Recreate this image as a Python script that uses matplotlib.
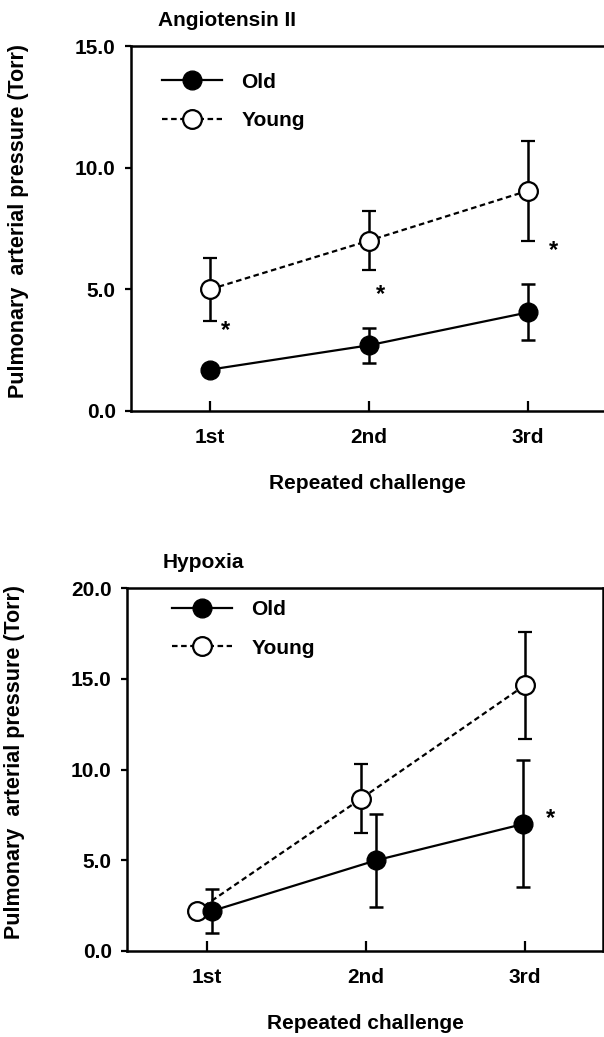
import matplotlib
matplotlib.use("Agg")
import matplotlib.pyplot as plt
from matplotlib.lines import Line2D
import numpy as np

plt.rcParams["font.family"] = ["Liberation Sans", "DejaVu Sans"]
plt.rcParams["font.weight"] = "bold"
plt.rcParams["axes.labelweight"] = "bold"

challenges = ["1st", "2nd", "3rd"]

# Angiotensin II
ang_old = [1.7, 2.7, 4.05]
ang_old_err = [0.15, 0.72, 1.15]
ang_young = [5.0, 7.0, 9.05]
ang_young_err = [1.3, 1.2, 2.05]
ang_stars_x = [1.10, 2.075, 3.16]
ang_stars_y = [3.3, 4.8, 6.6]

# Hypoxia
hyp_old = [2.2, 5.0, 7.0]
hyp_old_err = [1.2, 2.55, 3.5]
hyp_young = [2.2, 8.4, 14.65]
hyp_young_err = [0.35, 1.9, 2.95]
hyp_stars_x = [3.16]
hyp_stars_y = [7.3]

FS = 15
YOUNG_LS = (0, (2.5, 1.6))


def draw_panel(ax, title, old, old_err, young, young_err, stars_x, stars_y,
               ymax, yticks, old_dx, young_dx, xlim, title_x, legend_xy):
    x = np.arange(1, len(challenges) + 1)
    ax.errorbar(x + young_dx, young, yerr=young_err, color="black",
                linestyle=YOUNG_LS, linewidth=1.6, marker="o",
                markersize=13.5, markerfacecolor="white", markeredgecolor="black",
                markeredgewidth=1.6, elinewidth=1.8, capsize=5, capthick=1.8,
                zorder=3)
    ax.errorbar(x + old_dx, old, yerr=old_err, color="black", linestyle="-",
                linewidth=1.6, marker="o", markersize=13.5,
                markerfacecolor="black", markeredgecolor="black",
                elinewidth=1.8, capsize=5, capthick=1.8, zorder=4)
    for sx, sy in zip(stars_x, stars_y):
        ax.text(sx, sy, "*", fontsize=17, ha="center", va="center")

    ax.set_xlim(*xlim)
    ax.set_ylim(0, ymax)
    ax.set_xticks(x)
    ax.set_xticklabels(challenges, fontsize=FS)
    ax.set_yticks(yticks)
    ax.set_yticklabels([f"{v:.1f}" for v in yticks], fontsize=FS)
    ax.tick_params(axis="x", direction="in", length=7, width=1.6, pad=12)
    ax.tick_params(axis="y", direction="out", length=4, width=1.6, pad=7)
    for s in ax.spines.values():
        s.set_linewidth(1.8)

    ax.set_xlabel("Repeated challenge", fontsize=FS, labelpad=20)
    ax.set_ylabel("Pulmonary  arterial pressure (Torr)", fontsize=15.5)
    ax.yaxis.set_label_coords(-0.215, 0.52)

    handles = [
        Line2D([], [], color="black", linestyle="-", linewidth=1.6, marker="o",
               markersize=13.5, markerfacecolor="black"),
        Line2D([], [], color="black", linestyle=YOUNG_LS, linewidth=1.6,
               marker="o", markersize=13.5, markerfacecolor="white",
               markeredgewidth=1.6),
    ]
    ax.legend(handles, ["Old", "Young"], loc="upper left",
              bbox_to_anchor=legend_xy, frameon=False, fontsize=FS,
              handlelength=2.85, handletextpad=0.95, labelspacing=0.95,
              borderpad=0, borderaxespad=0)
    ax.text(title_x, 1.045, title, transform=ax.transAxes, fontsize=FS,
            ha="left", va="bottom")


fig = plt.figure(figsize=(6.04, 10.37), dpi=100)

ax1 = fig.add_axes([131 / 604, 1 - 411 / 1037, 473 / 604, 365 / 1037])
draw_panel(ax1, "Angiotensin II", ang_old, ang_old_err, ang_young,
           ang_young_err, ang_stars_x, ang_stars_y, 15, [0, 5, 10, 15],
           0.0, 0.0, (0.503, 3.48), 0.058, (0.066, 0.927))
ax1.spines["right"].set_visible(False)

ax2 = fig.add_axes([127 / 604, 1 - 951 / 1037, 476 / 604, 363 / 1037])
draw_panel(ax2, "Hypoxia", hyp_old, hyp_old_err, hyp_young, hyp_young_err,
           hyp_stars_x, hyp_stars_y, 20, [0, 5, 10, 15, 20],
           np.array([0.03, 0.065, -0.01]), np.array([-0.065, -0.03, 0.0]),
           (0.497, 3.49), 0.075, (0.095, 0.967))

fig.savefig("out.png", dpi=100)
